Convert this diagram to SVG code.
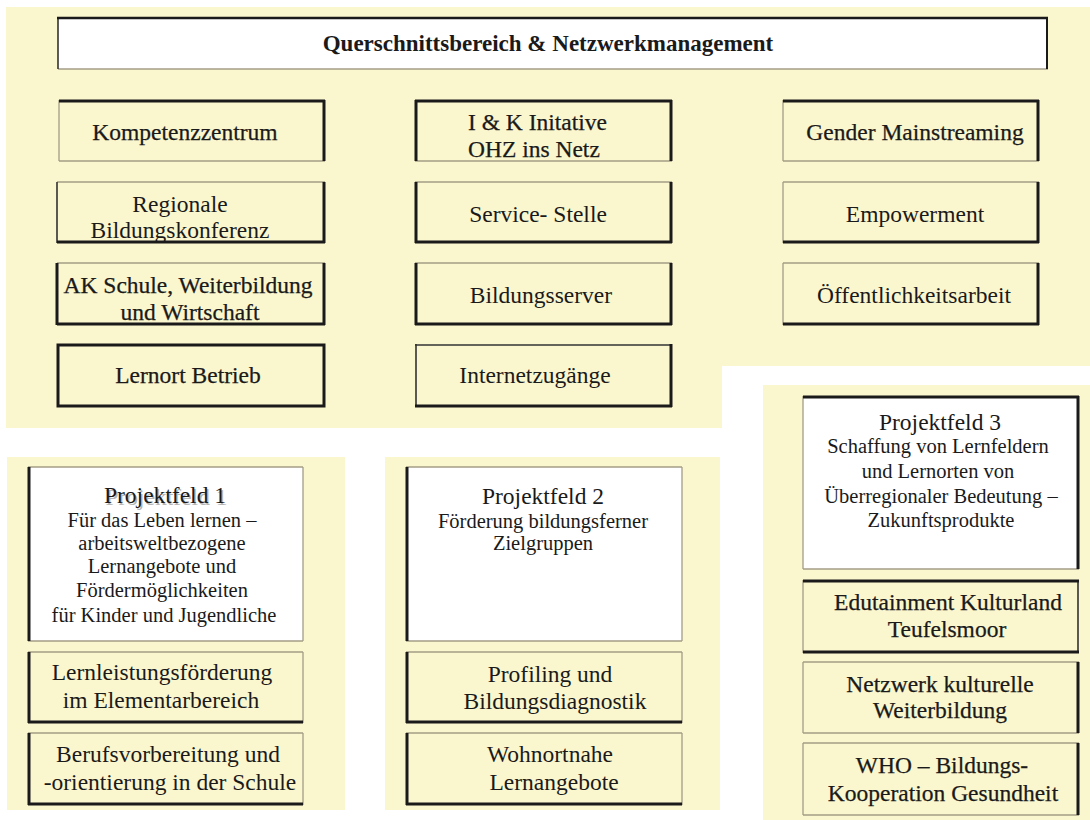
<svg xmlns="http://www.w3.org/2000/svg" width="1090" height="820" viewBox="0 0 1090 820">
<style>
.bg{fill:#FAF6CE}
.w{fill:#ffffff}
.y{fill:#FAF6CE}
.tn{stroke:#a39d86;stroke-width:1.3;fill:none}
.tk{stroke:#1a1a1a;stroke-width:3;fill:none}
.md{stroke:#333;stroke-width:1.6;fill:none}
text{font-family:"Liberation Serif","Times New Roman",serif;fill:#1a1a1a;font-size:23.5px}
.c{text-anchor:middle}
.s{font-size:20.5px}
.dk{stroke:#1a1a1a;stroke-width:0.25}
.title{font-weight:bold;font-size:23px}
</style>
<rect width="1090" height="820" fill="#ffffff"/>
<g id="backgrounds">
<path class="bg" d="M6,7 H1090 V366 H722 V428 H6 Z"/>
<rect class="bg" x="7" y="457" width="338" height="353"/>
<rect class="bg" x="385" y="457" width="335" height="353"/>
<rect class="bg" x="763" y="385" width="327" height="435"/>
</g>
<g id="connectors"></g>
<g id="title">
<rect class="w" x="58" y="17" width="990" height="52"/>
<line class="tn" x1="58" y1="69" x2="1048" y2="69"/>
<line class="md" x1="58" y1="17" x2="58" y2="69"/>
<line class="tk" x1="1047" y1="17" x2="1047" y2="69" style="stroke-width:2"/>
<line class="tk" x1="57" y1="18" x2="1048" y2="18" style="stroke-width:2.5"/>
<text class="c title" x="548" y="51">Querschnittsbereich &amp; Netzwerkmanagement</text>
</g>
<g id="kompetenzzentrum">
<rect class="y" x="59" y="100" width="266" height="61"/>
<line class="tn" x1="59" y1="100" x2="59" y2="161"/><line class="tn" x1="59" y1="161" x2="325" y2="161"/>
<line class="tk" x1="59" y1="101" x2="325" y2="101"/><line class="tk" x1="324" y1="100" x2="324" y2="161"/>
<text class="c dk" x="185" y="140">Kompetenzzentrum</text>
</g>
<g id="regionale">
<rect class="y" x="57" y="182" width="268" height="61"/>
<line class="tn" x1="57" y1="182" x2="325" y2="182"/><line class="md" x1="57" y1="182" x2="57" y2="243"/>
<line class="tk" x1="324" y1="182" x2="324" y2="243"/><line class="tk" x1="57" y1="242" x2="325" y2="242"/>
<text class="c" x="180" y="212">Regionale</text>
<text class="c" x="180" y="238">Bildungskonferenz</text>
</g>
<g id="ak-schule">
<rect class="y" x="57" y="263" width="268" height="62"/>
<line class="tn" x1="57" y1="263" x2="325" y2="263"/>
<line class="tk" x1="57" y1="263" x2="57" y2="325"/><line class="tk" x1="324" y1="263" x2="324" y2="325"/><line class="tk" x1="57" y1="324" x2="325" y2="324"/>
<text class="c dk" x="188" y="293">AK Schule, Weiterbildung</text>
<text class="c dk" x="190" y="320">und Wirtschaft</text>
</g>
<g id="lernort-betrieb">
<rect class="y tk" x="58" y="345" width="266" height="61"/>
<text class="c dk" x="188" y="383">Lernort Betrieb</text>
</g>
<g id="ik-initiative">
<rect class="y" x="415" y="100" width="257" height="61"/>
<line class="tn" x1="415" y1="161" x2="672" y2="161"/>
<line class="tk" x1="415" y1="101" x2="672" y2="101"/><line class="tk" x1="416" y1="100" x2="416" y2="161"/><line class="tk" x1="671" y1="100" x2="671" y2="161"/>
<text class="dk" x="468" y="130">I &amp; K  Initative</text>
<text class="dk" x="468" y="157">OHZ ins Netz</text>
</g>
<g id="service-stelle">
<rect class="y" x="415" y="182" width="257" height="61"/>
<line class="tn" x1="415" y1="182" x2="672" y2="182"/>
<line class="tk" x1="416" y1="182" x2="416" y2="243"/><line class="tk" x1="671" y1="182" x2="671" y2="243"/><line class="tk" x1="415" y1="242" x2="672" y2="242"/>
<text class="c" x="538" y="222">Service- Stelle</text>
</g>
<g id="bildungsserver">
<rect class="y" x="415" y="263" width="257" height="62"/>
<line class="tn" x1="415" y1="263" x2="672" y2="263"/>
<line class="tk" x1="416" y1="263" x2="416" y2="325"/><line class="tk" x1="671" y1="263" x2="671" y2="325"/><line class="tk" x1="415" y1="324" x2="672" y2="324"/>
<text class="c" x="541" y="303">Bildungsserver</text>
</g>
<g id="internetzugaenge">
<rect class="y" x="415" y="344" width="257" height="63"/>
<line class="md" x1="415" y1="345" x2="672" y2="345"/><line class="md" x1="416" y1="344" x2="416" y2="407"/>
<line class="tk" x1="671" y1="344" x2="671" y2="407"/><line class="tk" x1="415" y1="406" x2="672" y2="406"/>
<text class="c" x="535" y="383">Internetzugänge</text>
</g>
<g id="gender-mainstreaming">
<rect class="y" x="783" y="100" width="256" height="61"/>
<line class="tn" x1="783" y1="100" x2="783" y2="161"/><line class="tn" x1="783" y1="161" x2="1039" y2="161"/>
<line class="tk" x1="783" y1="101" x2="1039" y2="101"/><line class="tk" x1="1038" y1="100" x2="1038" y2="161"/>
<text class="c dk" x="915" y="140">Gender Mainstreaming</text>
</g>
<g id="empowerment">
<rect class="y" x="783" y="182" width="256" height="61"/>
<line class="tn" x1="783" y1="182" x2="1039" y2="182"/><line class="tn" x1="783" y1="182" x2="783" y2="243"/>
<line class="tk" x1="1038" y1="182" x2="1038" y2="243"/><line class="tk" x1="783" y1="242" x2="1039" y2="242"/>
<text class="c" x="915" y="222">Empowerment</text>
</g>
<g id="oeffentlichkeitsarbeit">
<rect class="y" x="783" y="263" width="256" height="62"/>
<line class="tn" x1="783" y1="263" x2="1039" y2="263"/><line class="tn" x1="783" y1="263" x2="783" y2="325"/>
<line class="tk" x1="1038" y1="263" x2="1038" y2="325"/><line class="tk" x1="783" y1="324" x2="1039" y2="324"/>
<text class="c" x="914" y="303">Öffentlichkeitsarbeit</text>
</g>
<g id="projektfeld-1">
<rect class="w" x="28" y="467" width="275" height="174"/>
<line class="tn" x1="28" y1="467" x2="303" y2="467"/><line class="tn" x1="303" y1="467" x2="303" y2="641"/><line class="tn" x1="28" y1="641" x2="303" y2="641"/>
<line class="tk" x1="29" y1="467" x2="29" y2="641"/>
<text class="c" x="166.5" y="504.5" style="fill:#b5b5b5">Projektfeld 1</text>
<text class="c" x="165" y="503">Projektfeld 1</text>
<text class="c s" x="162" y="527">Für das Leben lernen –</text>
<text class="c s" x="162" y="550">arbeitsweltbezogene</text>
<text class="c s" x="162" y="573">Lernangebote und</text>
<text class="c s" x="162" y="597">Fördermöglichkeiten</text>
<text class="c s" x="164" y="622">für Kinder und Jugendliche</text>
</g>
<g id="lernleistungsfoerderung">
<rect class="y" x="28" y="652" width="275" height="71"/>
<line class="tn" x1="28" y1="652" x2="303" y2="652"/><line class="tn" x1="303" y1="652" x2="303" y2="723"/>
<line class="tk" x1="29" y1="652" x2="29" y2="723"/><line class="tk" x1="28" y1="722" x2="303" y2="722"/>
<text class="c" x="162" y="680">Lernleistungsförderung</text>
<text class="c" x="161" y="708">im Elementarbereich</text>
</g>
<g id="berufsvorbereitung">
<rect class="y" x="28" y="733" width="275" height="72"/>
<line class="tn" x1="28" y1="733" x2="303" y2="733"/><line class="tn" x1="303" y1="733" x2="303" y2="805"/>
<line class="tk" x1="29" y1="733" x2="29" y2="805"/><line class="tk" x1="28" y1="804" x2="303" y2="804"/>
<text class="c" x="168" y="762">Berufsvorbereitung und</text>
<text class="c" x="170" y="790">-orientierung in der Schule</text>
</g>
<g id="projektfeld-2">
<rect class="w" x="406" y="467" width="276" height="174"/>
<line class="tn" x1="406" y1="467" x2="682" y2="467"/><line class="tn" x1="682" y1="467" x2="682" y2="641"/><line class="tn" x1="406" y1="641" x2="682" y2="641"/>
<line class="tk" x1="407" y1="467" x2="407" y2="641"/>
<text class="c" x="543" y="504">Projektfeld 2</text>
<text class="c s" x="543" y="528">Förderung bildungsferner</text>
<text class="c s" x="543" y="550">Zielgruppen</text>
</g>
<g id="profiling">
<rect class="y" x="406" y="652" width="276" height="71"/>
<line class="tn" x1="406" y1="652" x2="682" y2="652"/><line class="tn" x1="682" y1="652" x2="682" y2="723"/>
<line class="tk" x1="407" y1="652" x2="407" y2="723"/><line class="tk" x1="406" y1="722" x2="682" y2="722"/>
<text class="c" x="550" y="682">Profiling und</text>
<text class="c" x="555" y="709">Bildungsdiagnostik</text>
</g>
<g id="wohnortnahe">
<rect class="y" x="406" y="733" width="276" height="72"/>
<line class="tn" x1="406" y1="733" x2="682" y2="733"/><line class="tn" x1="682" y1="733" x2="682" y2="805"/>
<line class="tk" x1="407" y1="733" x2="407" y2="805"/><line class="tk" x1="406" y1="804" x2="682" y2="804"/>
<text class="c" x="550" y="762">Wohnortnahe</text>
<text class="c" x="554" y="790">Lernangebote</text>
</g>
<g id="projektfeld-3">
<rect class="w" x="803" y="396" width="276" height="173"/>
<line class="tn" x1="803" y1="396" x2="803" y2="569"/><line class="tn" x1="803" y1="569" x2="1079" y2="569"/>
<line class="tk" x1="803" y1="397" x2="1079" y2="397"/><line class="tk" x1="1078" y1="396" x2="1078" y2="569"/>
<text class="c" x="940" y="430">Projektfeld 3</text>
<text class="c s" x="938" y="453">Schaffung von Lernfeldern</text>
<text class="c s" x="938" y="478">und Lernorten von</text>
<text class="c s" x="941" y="503">Überregionaler Bedeutung –</text>
<text class="c s" x="941" y="527">Zukunftsprodukte</text>
</g>
<g id="edutainment">
<rect class="y" x="803" y="580" width="276" height="73"/>
<line class="tn" x1="803" y1="580" x2="803" y2="653"/><line class="md" x1="1078" y1="580" x2="1078" y2="653"/>
<line class="tk" x1="803" y1="581" x2="1079" y2="581"/><line class="tk" x1="803" y1="652" x2="1079" y2="652"/>
<text class="c dk" x="948" y="610">Edutainment Kulturland</text>
<text class="c dk" x="947" y="637">Teufelsmoor</text>
</g>
<g id="netzwerk">
<rect class="y" x="803" y="662" width="276" height="71"/>
<line class="tn" x1="803" y1="662" x2="1079" y2="662"/><line class="tn" x1="803" y1="662" x2="803" y2="733"/><line class="tn" x1="803" y1="733" x2="1079" y2="733"/>
<line class="tk" x1="1078" y1="662" x2="1078" y2="733"/>
<text class="c dk" x="940" y="692">Netzwerk kulturelle</text>
<text class="c dk" x="940" y="718">Weiterbildung</text>
</g>
<g id="who">
<rect class="y" x="803" y="743" width="276" height="72"/>
<line class="tn" x1="803" y1="743" x2="1079" y2="743"/><line class="tn" x1="803" y1="743" x2="803" y2="815"/><line class="tn" x1="803" y1="815" x2="1079" y2="815"/>
<line class="tk" x1="1078" y1="743" x2="1078" y2="815"/>
<text class="c dk" x="942" y="773">WHO – Bildungs-</text>
<text class="c dk" x="943" y="801">Kooperation  Gesundheit</text>
</g>
</svg>
